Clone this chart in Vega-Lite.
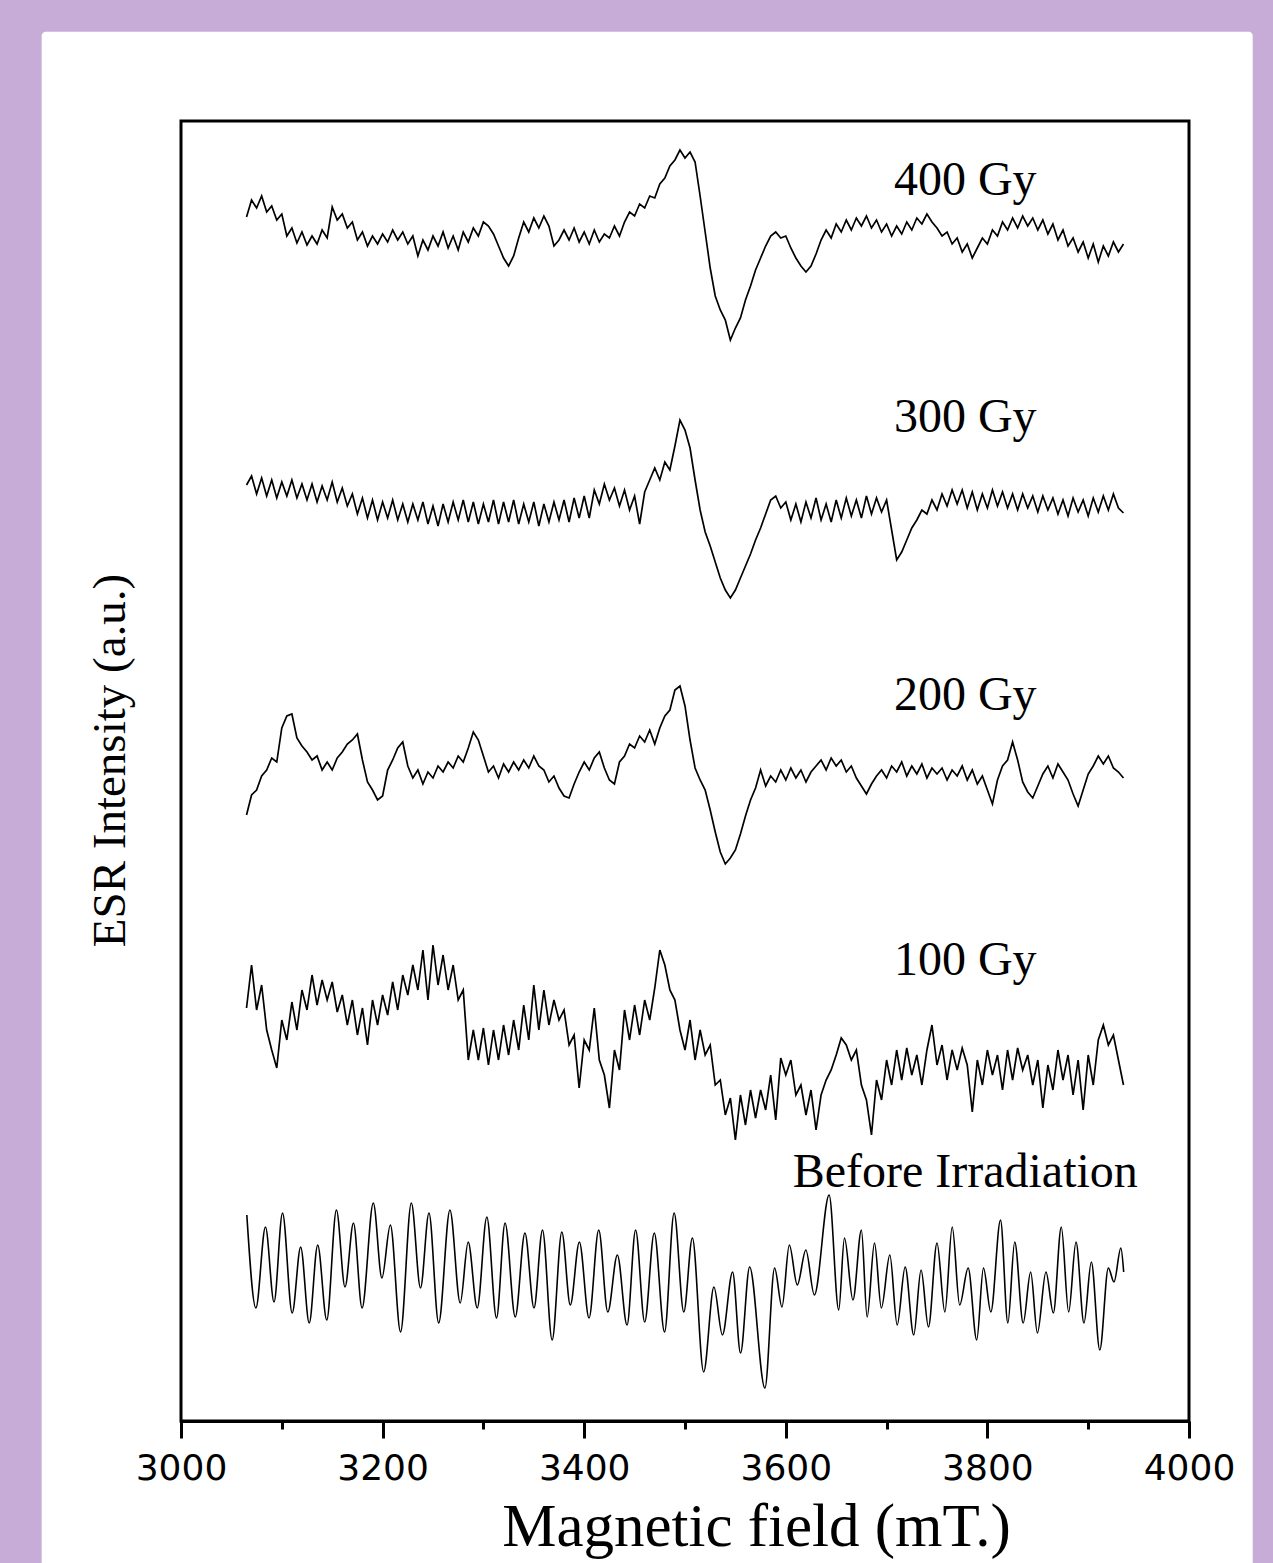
{
"$schema":"https://vega.github.io/schema/vega-lite/v6.json",
"width":1008,"height":1300,
"autosize":{"type":"none"},
"padding":{"left":181,"top":121,"right":84,"bottom":142},
"background":"#c8acd8",
"config":{"view":{"stroke":null},"axis":{"grid":false}},
"datasets":{
"noisy":[
{"d":"400","x":3065,"v":1283},{"d":"400","x":3070,"v":1300},{"d":"400","x":3075,"v":1292},{"d":"400","x":3080,"v":1304},{"d":"400","x":3085,"v":1288},{"d":"400","x":3090,"v":1294},{"d":"400","x":3095,"v":1280},{"d":"400","x":3100,"v":1286},{"d":"400","x":3105,"v":1264},{"d":"400","x":3110,"v":1272},{"d":"400","x":3115,"v":1257},{"d":"400","x":3120,"v":1268},{"d":"400","x":3125,"v":1255},{"d":"400","x":3130,"v":1264},{"d":"400","x":3135,"v":1256},{"d":"400","x":3140,"v":1270},{"d":"400","x":3145,"v":1262},{"d":"400","x":3150,"v":1293},{"d":"400","x":3155,"v":1280},{"d":"400","x":3160,"v":1286},{"d":"400","x":3165,"v":1272},{"d":"400","x":3170,"v":1278},{"d":"400","x":3175,"v":1260},{"d":"400","x":3180,"v":1268},{"d":"400","x":3185,"v":1254},{"d":"400","x":3190,"v":1264},{"d":"400","x":3195,"v":1256},{"d":"400","x":3200,"v":1266},{"d":"400","x":3205,"v":1258},{"d":"400","x":3210,"v":1270},{"d":"400","x":3215,"v":1260},{"d":"400","x":3220,"v":1268},{"d":"400","x":3225,"v":1256},{"d":"400","x":3230,"v":1264},{"d":"400","x":3235,"v":1244},{"d":"400","x":3240,"v":1260},{"d":"400","x":3245,"v":1250},{"d":"400","x":3250,"v":1264},{"d":"400","x":3255,"v":1254},{"d":"400","x":3260,"v":1268},{"d":"400","x":3265,"v":1252},{"d":"400","x":3270,"v":1264},{"d":"400","x":3275,"v":1250},{"d":"400","x":3280,"v":1268},{"d":"400","x":3285,"v":1258},{"d":"400","x":3290,"v":1272},{"d":"400","x":3295,"v":1264},{"d":"400","x":3300,"v":1278},{"d":"400","x":3305,"v":1274},{"d":"400","x":3310,"v":1266},{"d":"400","x":3315,"v":1254},{"d":"400","x":3320,"v":1242},{"d":"400","x":3325,"v":1234},{"d":"400","x":3330,"v":1244},{"d":"400","x":3335,"v":1262},{"d":"400","x":3340,"v":1278},{"d":"400","x":3345,"v":1268},{"d":"400","x":3350,"v":1282},{"d":"400","x":3355,"v":1272},{"d":"400","x":3360,"v":1284},{"d":"400","x":3365,"v":1274},{"d":"400","x":3370,"v":1254},{"d":"400","x":3375,"v":1260},{"d":"400","x":3380,"v":1270},{"d":"400","x":3385,"v":1260},{"d":"400","x":3390,"v":1272},{"d":"400","x":3395,"v":1258},{"d":"400","x":3400,"v":1268},{"d":"400","x":3405,"v":1256},{"d":"400","x":3410,"v":1270},{"d":"400","x":3415,"v":1258},{"d":"400","x":3420,"v":1266},{"d":"400","x":3425,"v":1262},{"d":"400","x":3430,"v":1274},{"d":"400","x":3435,"v":1264},{"d":"400","x":3440,"v":1278},{"d":"400","x":3445,"v":1288},{"d":"400","x":3450,"v":1284},{"d":"400","x":3455,"v":1296},{"d":"400","x":3460,"v":1292},{"d":"400","x":3465,"v":1304},{"d":"400","x":3470,"v":1302},{"d":"400","x":3475,"v":1316},{"d":"400","x":3480,"v":1322},{"d":"400","x":3485,"v":1334},{"d":"400","x":3490,"v":1340},{"d":"400","x":3495,"v":1350},{"d":"400","x":3500,"v":1342},{"d":"400","x":3505,"v":1348},{"d":"400","x":3510,"v":1338},{"d":"400","x":3515,"v":1304},{"d":"400","x":3520,"v":1268},{"d":"400","x":3525,"v":1232},{"d":"400","x":3530,"v":1204},{"d":"400","x":3535,"v":1190},{"d":"400","x":3540,"v":1180},{"d":"400","x":3545,"v":1160},{"d":"400","x":3550,"v":1172},{"d":"400","x":3555,"v":1182},{"d":"400","x":3560,"v":1200},{"d":"400","x":3565,"v":1214},{"d":"400","x":3570,"v":1230},{"d":"400","x":3575,"v":1242},{"d":"400","x":3580,"v":1254},{"d":"400","x":3585,"v":1264},{"d":"400","x":3590,"v":1268},{"d":"400","x":3595,"v":1262},{"d":"400","x":3600,"v":1264},{"d":"400","x":3605,"v":1252},{"d":"400","x":3610,"v":1242},{"d":"400","x":3615,"v":1234},{"d":"400","x":3620,"v":1228},{"d":"400","x":3625,"v":1234},{"d":"400","x":3630,"v":1246},{"d":"400","x":3635,"v":1260},{"d":"400","x":3640,"v":1270},{"d":"400","x":3645,"v":1262},{"d":"400","x":3650,"v":1276},{"d":"400","x":3655,"v":1268},{"d":"400","x":3660,"v":1280},{"d":"400","x":3665,"v":1270},{"d":"400","x":3670,"v":1282},{"d":"400","x":3675,"v":1274},{"d":"400","x":3680,"v":1284},{"d":"400","x":3685,"v":1272},{"d":"400","x":3690,"v":1280},{"d":"400","x":3695,"v":1268},{"d":"400","x":3700,"v":1276},{"d":"400","x":3705,"v":1264},{"d":"400","x":3710,"v":1274},{"d":"400","x":3715,"v":1266},{"d":"400","x":3720,"v":1278},{"d":"400","x":3725,"v":1270},{"d":"400","x":3730,"v":1282},{"d":"400","x":3735,"v":1276},{"d":"400","x":3740,"v":1286},{"d":"400","x":3745,"v":1278},{"d":"400","x":3750,"v":1272},{"d":"400","x":3755,"v":1264},{"d":"400","x":3760,"v":1268},{"d":"400","x":3765,"v":1256},{"d":"400","x":3770,"v":1262},{"d":"400","x":3775,"v":1248},{"d":"400","x":3780,"v":1256},{"d":"400","x":3785,"v":1242},{"d":"400","x":3790,"v":1252},{"d":"400","x":3795,"v":1262},{"d":"400","x":3800,"v":1256},{"d":"400","x":3805,"v":1270},{"d":"400","x":3810,"v":1264},{"d":"400","x":3815,"v":1278},{"d":"400","x":3820,"v":1270},{"d":"400","x":3825,"v":1282},{"d":"400","x":3830,"v":1272},{"d":"400","x":3835,"v":1284},{"d":"400","x":3840,"v":1274},{"d":"400","x":3845,"v":1282},{"d":"400","x":3850,"v":1270},{"d":"400","x":3855,"v":1280},{"d":"400","x":3860,"v":1266},{"d":"400","x":3865,"v":1276},{"d":"400","x":3870,"v":1260},{"d":"400","x":3875,"v":1270},{"d":"400","x":3880,"v":1254},{"d":"400","x":3885,"v":1262},{"d":"400","x":3890,"v":1248},{"d":"400","x":3895,"v":1258},{"d":"400","x":3900,"v":1242},{"d":"400","x":3905,"v":1256},{"d":"400","x":3910,"v":1238},{"d":"400","x":3915,"v":1254},{"d":"400","x":3920,"v":1244},{"d":"400","x":3925,"v":1258},{"d":"400","x":3930,"v":1248},{"d":"400","x":3935,"v":1256},
{"d":"300","x":3065,"v":1015},{"d":"300","x":3070,"v":1024},{"d":"300","x":3075,"v":1006},{"d":"300","x":3080,"v":1022},{"d":"300","x":3085,"v":1004},{"d":"300","x":3090,"v":1020},{"d":"300","x":3095,"v":1002},{"d":"300","x":3100,"v":1018},{"d":"300","x":3105,"v":1004},{"d":"300","x":3110,"v":1020},{"d":"300","x":3115,"v":1002},{"d":"300","x":3120,"v":1016},{"d":"300","x":3125,"v":1000},{"d":"300","x":3130,"v":1016},{"d":"300","x":3135,"v":998},{"d":"300","x":3140,"v":1014},{"d":"300","x":3145,"v":1000},{"d":"300","x":3150,"v":1018},{"d":"300","x":3155,"v":998},{"d":"300","x":3160,"v":1012},{"d":"300","x":3165,"v":994},{"d":"300","x":3170,"v":1006},{"d":"300","x":3175,"v":986},{"d":"300","x":3180,"v":1002},{"d":"300","x":3185,"v":982},{"d":"300","x":3190,"v":1000},{"d":"300","x":3195,"v":980},{"d":"300","x":3200,"v":998},{"d":"300","x":3205,"v":982},{"d":"300","x":3210,"v":1000},{"d":"300","x":3215,"v":980},{"d":"300","x":3220,"v":996},{"d":"300","x":3225,"v":978},{"d":"300","x":3230,"v":996},{"d":"300","x":3235,"v":980},{"d":"300","x":3240,"v":998},{"d":"300","x":3245,"v":976},{"d":"300","x":3250,"v":994},{"d":"300","x":3255,"v":974},{"d":"300","x":3260,"v":996},{"d":"300","x":3265,"v":978},{"d":"300","x":3270,"v":998},{"d":"300","x":3275,"v":980},{"d":"300","x":3280,"v":1000},{"d":"300","x":3285,"v":978},{"d":"300","x":3290,"v":998},{"d":"300","x":3295,"v":976},{"d":"300","x":3300,"v":996},{"d":"300","x":3305,"v":978},{"d":"300","x":3310,"v":1000},{"d":"300","x":3315,"v":976},{"d":"300","x":3320,"v":998},{"d":"300","x":3325,"v":978},{"d":"300","x":3330,"v":1000},{"d":"300","x":3335,"v":976},{"d":"300","x":3340,"v":996},{"d":"300","x":3345,"v":978},{"d":"300","x":3350,"v":998},{"d":"300","x":3355,"v":974},{"d":"300","x":3360,"v":996},{"d":"300","x":3365,"v":978},{"d":"300","x":3370,"v":998},{"d":"300","x":3375,"v":980},{"d":"300","x":3380,"v":1000},{"d":"300","x":3385,"v":978},{"d":"300","x":3390,"v":1002},{"d":"300","x":3395,"v":982},{"d":"300","x":3400,"v":1004},{"d":"300","x":3405,"v":982},{"d":"300","x":3410,"v":1010},{"d":"300","x":3415,"v":996},{"d":"300","x":3420,"v":1016},{"d":"300","x":3425,"v":1000},{"d":"300","x":3430,"v":1012},{"d":"300","x":3435,"v":994},{"d":"300","x":3440,"v":1010},{"d":"300","x":3445,"v":990},{"d":"300","x":3450,"v":1004},{"d":"300","x":3455,"v":976},{"d":"300","x":3460,"v":1008},{"d":"300","x":3465,"v":1020},{"d":"300","x":3470,"v":1032},{"d":"300","x":3475,"v":1020},{"d":"300","x":3480,"v":1038},{"d":"300","x":3485,"v":1030},{"d":"300","x":3490,"v":1054},{"d":"300","x":3495,"v":1080},{"d":"300","x":3500,"v":1070},{"d":"300","x":3505,"v":1052},{"d":"300","x":3510,"v":1020},{"d":"300","x":3515,"v":990},{"d":"300","x":3520,"v":968},{"d":"300","x":3525,"v":954},{"d":"300","x":3530,"v":938},{"d":"300","x":3535,"v":922},{"d":"300","x":3540,"v":910},{"d":"300","x":3545,"v":902},{"d":"300","x":3550,"v":910},{"d":"300","x":3555,"v":922},{"d":"300","x":3560,"v":934},{"d":"300","x":3565,"v":946},{"d":"300","x":3570,"v":960},{"d":"300","x":3575,"v":972},{"d":"300","x":3580,"v":986},{"d":"300","x":3585,"v":1000},{"d":"300","x":3590,"v":1004},{"d":"300","x":3595,"v":992},{"d":"300","x":3600,"v":998},{"d":"300","x":3605,"v":980},{"d":"300","x":3610,"v":996},{"d":"300","x":3615,"v":978},{"d":"300","x":3620,"v":998},{"d":"300","x":3625,"v":982},{"d":"300","x":3630,"v":1002},{"d":"300","x":3635,"v":980},{"d":"300","x":3640,"v":996},{"d":"300","x":3645,"v":978},{"d":"300","x":3650,"v":1000},{"d":"300","x":3655,"v":982},{"d":"300","x":3660,"v":1002},{"d":"300","x":3665,"v":984},{"d":"300","x":3670,"v":1000},{"d":"300","x":3675,"v":982},{"d":"300","x":3680,"v":1004},{"d":"300","x":3685,"v":986},{"d":"300","x":3690,"v":1002},{"d":"300","x":3695,"v":988},{"d":"300","x":3700,"v":1000},{"d":"300","x":3705,"v":970},{"d":"300","x":3710,"v":940},{"d":"300","x":3715,"v":948},{"d":"300","x":3720,"v":960},{"d":"300","x":3725,"v":972},{"d":"300","x":3730,"v":980},{"d":"300","x":3735,"v":990},{"d":"300","x":3740,"v":986},{"d":"300","x":3745,"v":1000},{"d":"300","x":3750,"v":990},{"d":"300","x":3755,"v":1006},{"d":"300","x":3760,"v":994},{"d":"300","x":3765,"v":1010},{"d":"300","x":3770,"v":996},{"d":"300","x":3775,"v":1010},{"d":"300","x":3780,"v":992},{"d":"300","x":3785,"v":1008},{"d":"300","x":3790,"v":990},{"d":"300","x":3795,"v":1006},{"d":"300","x":3800,"v":992},{"d":"300","x":3805,"v":1010},{"d":"300","x":3810,"v":994},{"d":"300","x":3815,"v":1008},{"d":"300","x":3820,"v":992},{"d":"300","x":3825,"v":1006},{"d":"300","x":3830,"v":990},{"d":"300","x":3835,"v":1006},{"d":"300","x":3840,"v":992},{"d":"300","x":3845,"v":1004},{"d":"300","x":3850,"v":988},{"d":"300","x":3855,"v":1004},{"d":"300","x":3860,"v":990},{"d":"300","x":3865,"v":1002},{"d":"300","x":3870,"v":986},{"d":"300","x":3875,"v":1000},{"d":"300","x":3880,"v":984},{"d":"300","x":3885,"v":1002},{"d":"300","x":3890,"v":988},{"d":"300","x":3895,"v":1000},{"d":"300","x":3900,"v":984},{"d":"300","x":3905,"v":1002},{"d":"300","x":3910,"v":988},{"d":"300","x":3915,"v":1004},{"d":"300","x":3920,"v":990},{"d":"300","x":3925,"v":1006},{"d":"300","x":3930,"v":992},{"d":"300","x":3935,"v":987},
{"d":"200","x":3065,"v":685},{"d":"200","x":3070,"v":705},{"d":"200","x":3075,"v":710},{"d":"200","x":3080,"v":724},{"d":"200","x":3085,"v":730},{"d":"200","x":3090,"v":742},{"d":"200","x":3095,"v":738},{"d":"200","x":3100,"v":772},{"d":"200","x":3105,"v":784},{"d":"200","x":3110,"v":786},{"d":"200","x":3115,"v":762},{"d":"200","x":3120,"v":754},{"d":"200","x":3125,"v":748},{"d":"200","x":3130,"v":740},{"d":"200","x":3135,"v":744},{"d":"200","x":3140,"v":730},{"d":"200","x":3145,"v":738},{"d":"200","x":3150,"v":730},{"d":"200","x":3155,"v":742},{"d":"200","x":3160,"v":748},{"d":"200","x":3165,"v":756},{"d":"200","x":3170,"v":760},{"d":"200","x":3175,"v":766},{"d":"200","x":3180,"v":740},{"d":"200","x":3185,"v":718},{"d":"200","x":3190,"v":710},{"d":"200","x":3195,"v":700},{"d":"200","x":3200,"v":704},{"d":"200","x":3205,"v":730},{"d":"200","x":3210,"v":740},{"d":"200","x":3215,"v":752},{"d":"200","x":3220,"v":758},{"d":"200","x":3225,"v":734},{"d":"200","x":3230,"v":722},{"d":"200","x":3235,"v":730},{"d":"200","x":3240,"v":716},{"d":"200","x":3245,"v":728},{"d":"200","x":3250,"v":722},{"d":"200","x":3255,"v":734},{"d":"200","x":3260,"v":728},{"d":"200","x":3265,"v":738},{"d":"200","x":3270,"v":732},{"d":"200","x":3275,"v":744},{"d":"200","x":3280,"v":738},{"d":"200","x":3285,"v":752},{"d":"200","x":3290,"v":768},{"d":"200","x":3295,"v":760},{"d":"200","x":3300,"v":744},{"d":"200","x":3305,"v":728},{"d":"200","x":3310,"v":734},{"d":"200","x":3315,"v":722},{"d":"200","x":3320,"v":736},{"d":"200","x":3325,"v":728},{"d":"200","x":3330,"v":738},{"d":"200","x":3335,"v":730},{"d":"200","x":3340,"v":740},{"d":"200","x":3345,"v":732},{"d":"200","x":3350,"v":744},{"d":"200","x":3355,"v":734},{"d":"200","x":3360,"v":730},{"d":"200","x":3365,"v":718},{"d":"200","x":3370,"v":724},{"d":"200","x":3375,"v":712},{"d":"200","x":3380,"v":704},{"d":"200","x":3385,"v":702},{"d":"200","x":3390,"v":716},{"d":"200","x":3395,"v":728},{"d":"200","x":3400,"v":738},{"d":"200","x":3405,"v":730},{"d":"200","x":3410,"v":742},{"d":"200","x":3415,"v":748},{"d":"200","x":3420,"v":732},{"d":"200","x":3425,"v":720},{"d":"200","x":3430,"v":716},{"d":"200","x":3435,"v":738},{"d":"200","x":3440,"v":744},{"d":"200","x":3445,"v":756},{"d":"200","x":3450,"v":752},{"d":"200","x":3455,"v":764},{"d":"200","x":3460,"v":758},{"d":"200","x":3465,"v":770},{"d":"200","x":3470,"v":756},{"d":"200","x":3475,"v":772},{"d":"200","x":3480,"v":784},{"d":"200","x":3485,"v":790},{"d":"200","x":3490,"v":810},{"d":"200","x":3495,"v":814},{"d":"200","x":3500,"v":794},{"d":"200","x":3505,"v":760},{"d":"200","x":3510,"v":732},{"d":"200","x":3515,"v":720},{"d":"200","x":3520,"v":710},{"d":"200","x":3525,"v":690},{"d":"200","x":3530,"v":668},{"d":"200","x":3535,"v":648},{"d":"200","x":3540,"v":636},{"d":"200","x":3545,"v":642},{"d":"200","x":3550,"v":650},{"d":"200","x":3555,"v":666},{"d":"200","x":3560,"v":684},{"d":"200","x":3565,"v":700},{"d":"200","x":3570,"v":712},{"d":"200","x":3575,"v":730},{"d":"200","x":3580,"v":714},{"d":"200","x":3585,"v":724},{"d":"200","x":3590,"v":718},{"d":"200","x":3595,"v":730},{"d":"200","x":3600,"v":720},{"d":"200","x":3605,"v":732},{"d":"200","x":3610,"v":722},{"d":"200","x":3615,"v":730},{"d":"200","x":3620,"v":718},{"d":"200","x":3625,"v":728},{"d":"200","x":3630,"v":734},{"d":"200","x":3635,"v":740},{"d":"200","x":3640,"v":730},{"d":"200","x":3645,"v":742},{"d":"200","x":3650,"v":734},{"d":"200","x":3655,"v":740},{"d":"200","x":3660,"v":728},{"d":"200","x":3665,"v":734},{"d":"200","x":3670,"v":722},{"d":"200","x":3675,"v":714},{"d":"200","x":3680,"v":706},{"d":"200","x":3685,"v":716},{"d":"200","x":3690,"v":724},{"d":"200","x":3695,"v":730},{"d":"200","x":3700,"v":722},{"d":"200","x":3705,"v":734},{"d":"200","x":3710,"v":728},{"d":"200","x":3715,"v":738},{"d":"200","x":3720,"v":724},{"d":"200","x":3725,"v":734},{"d":"200","x":3730,"v":726},{"d":"200","x":3735,"v":736},{"d":"200","x":3740,"v":722},{"d":"200","x":3745,"v":732},{"d":"200","x":3750,"v":726},{"d":"200","x":3755,"v":732},{"d":"200","x":3760,"v":720},{"d":"200","x":3765,"v":730},{"d":"200","x":3770,"v":724},{"d":"200","x":3775,"v":734},{"d":"200","x":3780,"v":720},{"d":"200","x":3785,"v":730},{"d":"200","x":3790,"v":716},{"d":"200","x":3795,"v":724},{"d":"200","x":3800,"v":710},{"d":"200","x":3805,"v":696},{"d":"200","x":3810,"v":720},{"d":"200","x":3815,"v":734},{"d":"200","x":3820,"v":740},{"d":"200","x":3825,"v":758},{"d":"200","x":3830,"v":740},{"d":"200","x":3835,"v":718},{"d":"200","x":3840,"v":708},{"d":"200","x":3845,"v":702},{"d":"200","x":3850,"v":714},{"d":"200","x":3855,"v":726},{"d":"200","x":3860,"v":734},{"d":"200","x":3865,"v":722},{"d":"200","x":3870,"v":736},{"d":"200","x":3875,"v":728},{"d":"200","x":3880,"v":720},{"d":"200","x":3885,"v":706},{"d":"200","x":3890,"v":694},{"d":"200","x":3895,"v":710},{"d":"200","x":3900,"v":726},{"d":"200","x":3905,"v":734},{"d":"200","x":3910,"v":744},{"d":"200","x":3915,"v":736},{"d":"200","x":3920,"v":744},{"d":"200","x":3925,"v":732},{"d":"200","x":3930,"v":728},{"d":"200","x":3935,"v":722},
{"d":"100","x":3065,"v":492},{"d":"100","x":3070,"v":535},{"d":"100","x":3075,"v":490},{"d":"100","x":3080,"v":515},{"d":"100","x":3085,"v":470},{"d":"100","x":3090,"v":450},{"d":"100","x":3095,"v":432},{"d":"100","x":3100,"v":480},{"d":"100","x":3105,"v":460},{"d":"100","x":3110,"v":498},{"d":"100","x":3115,"v":470},{"d":"100","x":3120,"v":510},{"d":"100","x":3125,"v":490},{"d":"100","x":3130,"v":525},{"d":"100","x":3135,"v":495},{"d":"100","x":3140,"v":520},{"d":"100","x":3145,"v":500},{"d":"100","x":3150,"v":518},{"d":"100","x":3155,"v":488},{"d":"100","x":3160,"v":505},{"d":"100","x":3165,"v":475},{"d":"100","x":3170,"v":500},{"d":"100","x":3175,"v":465},{"d":"100","x":3180,"v":492},{"d":"100","x":3185,"v":455},{"d":"100","x":3190,"v":500},{"d":"100","x":3195,"v":475},{"d":"100","x":3200,"v":505},{"d":"100","x":3205,"v":485},{"d":"100","x":3210,"v":518},{"d":"100","x":3215,"v":490},{"d":"100","x":3220,"v":525},{"d":"100","x":3225,"v":505},{"d":"100","x":3230,"v":535},{"d":"100","x":3235,"v":510},{"d":"100","x":3240,"v":550},{"d":"100","x":3245,"v":500},{"d":"100","x":3250,"v":555},{"d":"100","x":3255,"v":515},{"d":"100","x":3260,"v":545},{"d":"100","x":3265,"v":510},{"d":"100","x":3270,"v":535},{"d":"100","x":3275,"v":500},{"d":"100","x":3280,"v":510},{"d":"100","x":3285,"v":440},{"d":"100","x":3290,"v":470},{"d":"100","x":3295,"v":440},{"d":"100","x":3300,"v":472},{"d":"100","x":3305,"v":435},{"d":"100","x":3310,"v":470},{"d":"100","x":3315,"v":440},{"d":"100","x":3320,"v":475},{"d":"100","x":3325,"v":445},{"d":"100","x":3330,"v":480},{"d":"100","x":3335,"v":450},{"d":"100","x":3340,"v":495},{"d":"100","x":3345,"v":460},{"d":"100","x":3350,"v":515},{"d":"100","x":3355,"v":470},{"d":"100","x":3360,"v":510},{"d":"100","x":3365,"v":475},{"d":"100","x":3370,"v":500},{"d":"100","x":3375,"v":480},{"d":"100","x":3380,"v":490},{"d":"100","x":3385,"v":455},{"d":"100","x":3390,"v":465},{"d":"100","x":3395,"v":412},{"d":"100","x":3400,"v":460},{"d":"100","x":3405,"v":450},{"d":"100","x":3410,"v":492},{"d":"100","x":3415,"v":440},{"d":"100","x":3420,"v":425},{"d":"100","x":3425,"v":392},{"d":"100","x":3430,"v":450},{"d":"100","x":3435,"v":430},{"d":"100","x":3440,"v":490},{"d":"100","x":3445,"v":460},{"d":"100","x":3450,"v":495},{"d":"100","x":3455,"v":465},{"d":"100","x":3460,"v":500},{"d":"100","x":3465,"v":480},{"d":"100","x":3470,"v":512},{"d":"100","x":3475,"v":550},{"d":"100","x":3480,"v":535},{"d":"100","x":3485,"v":510},{"d":"100","x":3490,"v":500},{"d":"100","x":3495,"v":470},{"d":"100","x":3500,"v":450},{"d":"100","x":3505,"v":480},{"d":"100","x":3510,"v":440},{"d":"100","x":3515,"v":470},{"d":"100","x":3520,"v":445},{"d":"100","x":3525,"v":455},{"d":"100","x":3530,"v":415},{"d":"100","x":3535,"v":420},{"d":"100","x":3540,"v":385},{"d":"100","x":3545,"v":402},{"d":"100","x":3550,"v":360},{"d":"100","x":3555,"v":405},{"d":"100","x":3560,"v":375},{"d":"100","x":3565,"v":410},{"d":"100","x":3570,"v":382},{"d":"100","x":3575,"v":410},{"d":"100","x":3580,"v":390},{"d":"100","x":3585,"v":425},{"d":"100","x":3590,"v":380},{"d":"100","x":3595,"v":442},{"d":"100","x":3600,"v":425},{"d":"100","x":3605,"v":440},{"d":"100","x":3610,"v":405},{"d":"100","x":3615,"v":415},{"d":"100","x":3620,"v":385},{"d":"100","x":3625,"v":410},{"d":"100","x":3630,"v":370},{"d":"100","x":3635,"v":405},{"d":"100","x":3640,"v":420},{"d":"100","x":3645,"v":430},{"d":"100","x":3650,"v":445},{"d":"100","x":3655,"v":462},{"d":"100","x":3660,"v":455},{"d":"100","x":3665,"v":440},{"d":"100","x":3670,"v":450},{"d":"100","x":3675,"v":415},{"d":"100","x":3680,"v":400},{"d":"100","x":3685,"v":365},{"d":"100","x":3690,"v":420},{"d":"100","x":3695,"v":400},{"d":"100","x":3700,"v":440},{"d":"100","x":3705,"v":415},{"d":"100","x":3710,"v":450},{"d":"100","x":3715,"v":420},{"d":"100","x":3720,"v":452},{"d":"100","x":3725,"v":425},{"d":"100","x":3730,"v":445},{"d":"100","x":3735,"v":415},{"d":"100","x":3740,"v":450},{"d":"100","x":3745,"v":475},{"d":"100","x":3750,"v":435},{"d":"100","x":3755,"v":455},{"d":"100","x":3760,"v":420},{"d":"100","x":3765,"v":450},{"d":"100","x":3770,"v":430},{"d":"100","x":3775,"v":452},{"d":"100","x":3780,"v":435},{"d":"100","x":3785,"v":388},{"d":"100","x":3790,"v":440},{"d":"100","x":3795,"v":415},{"d":"100","x":3800,"v":450},{"d":"100","x":3805,"v":425},{"d":"100","x":3810,"v":445},{"d":"100","x":3815,"v":410},{"d":"100","x":3820,"v":450},{"d":"100","x":3825,"v":420},{"d":"100","x":3830,"v":452},{"d":"100","x":3835,"v":430},{"d":"100","x":3840,"v":445},{"d":"100","x":3845,"v":415},{"d":"100","x":3850,"v":440},{"d":"100","x":3855,"v":392},{"d":"100","x":3860,"v":435},{"d":"100","x":3865,"v":410},{"d":"100","x":3870,"v":450},{"d":"100","x":3875,"v":420},{"d":"100","x":3880,"v":445},{"d":"100","x":3885,"v":405},{"d":"100","x":3890,"v":440},{"d":"100","x":3895,"v":390},{"d":"100","x":3900,"v":445},{"d":"100","x":3905,"v":415},{"d":"100","x":3910,"v":460},{"d":"100","x":3915,"v":475},{"d":"100","x":3920,"v":455},{"d":"100","x":3925,"v":465},{"d":"100","x":3930,"v":440},{"d":"100","x":3935,"v":415}
],
"smooth":[
{"x":3065.3,"v":285},{"x":3074.3,"v":192},{"x":3083.8,"v":273},{"x":3092.3,"v":198},{"x":3100.7,"v":287},{"x":3110.3,"v":187},{"x":3118.7,"v":253},{"x":3127.2,"v":177},{"x":3135.6,"v":255},{"x":3144.6,"v":180},{"x":3154.2,"v":290},{"x":3162.7,"v":213},{"x":3171.1,"v":277},{"x":3179.6,"v":192},{"x":3190.8,"v":297},{"x":3199.3,"v":222},{"x":3207.7,"v":275},{"x":3217.8,"v":168},{"x":3228.5,"v":297},{"x":3237.6,"v":212},{"x":3246.0,"v":287},{"x":3255.6,"v":177},{"x":3266.8,"v":290},{"x":3277.0,"v":197},{"x":3284.9,"v":258},{"x":3293.9,"v":192},{"x":3303.4,"v":283},{"x":3313.0,"v":182},{"x":3321.5,"v":277},{"x":3331.6,"v":183},{"x":3341.2,"v":267},{"x":3350.2,"v":192},{"x":3358.6,"v":270},{"x":3368.2,"v":160},{"x":3377.8,"v":268},{"x":3386.2,"v":195},{"x":3395.2,"v":258},{"x":3404.8,"v":182},{"x":3414.4,"v":270},{"x":3423.4,"v":188},{"x":3432.9,"v":245},{"x":3442.5,"v":175},{"x":3451.0,"v":270},{"x":3460.0,"v":178},{"x":3469.5,"v":267},{"x":3479.7,"v":168},{"x":3489.2,"v":287},{"x":3498.8,"v":188},{"x":3507.3,"v":262},{"x":3518.5,"v":128},{"x":3528.7,"v":213},{"x":3537.1,"v":165},{"x":3547.2,"v":228},{"x":3555.1,"v":147},{"x":3564.1,"v":233},{"x":3579.3,"v":112},{"x":3588.9,"v":232},{"x":3596.2,"v":193},{"x":3603.5,"v":255},{"x":3611.4,"v":215},{"x":3619.9,"v":250},{"x":3628.3,"v":205},{"x":3643.0,"v":305},{"x":3652.5,"v":190},{"x":3658.2,"v":262},{"x":3666.6,"v":200},{"x":3675.0,"v":270},{"x":3680.7,"v":183},{"x":3688.0,"v":257},{"x":3694.8,"v":192},{"x":3703.2,"v":245},{"x":3710.5,"v":175},{"x":3718.4,"v":233},{"x":3726.9,"v":165},{"x":3734.2,"v":230},{"x":3741.5,"v":173},{"x":3750.0,"v":257},{"x":3757.8,"v":188},{"x":3765.1,"v":273},{"x":3772.5,"v":195},{"x":3780.9,"v":232},{"x":3789.4,"v":160},{"x":3796.1,"v":232},{"x":3803.4,"v":188},{"x":3813.0,"v":280},{"x":3820.3,"v":177},{"x":3827.1,"v":258},{"x":3835.5,"v":177},{"x":3842.9,"v":228},{"x":3849.6,"v":167},{"x":3858.1,"v":228},{"x":3865.4,"v":187},{"x":3873.3,"v":273},{"x":3880.6,"v":188},{"x":3887.9,"v":258},{"x":3895.8,"v":177},{"x":3903.1,"v":238},{"x":3911.5,"v":150},{"x":3920.0,"v":232},{"x":3925.6,"v":218},{"x":3932.4,"v":252},{"x":3935.2,"v":228}
],
"labels":[
{"t":"400 Gy","x":3778,"v":1305},{"t":"300 Gy","x":3778,"v":1068},{"t":"200 Gy","x":3778,"v":790},{"t":"100 Gy","x":3778,"v":525},{"t":"Before Irradiation","x":3778,"v":313}
]
},
"resolve":{"axis":{"x":"independent","y":"independent"}},
"layer":[
{"data":{"values":[{}]},
 "mark":{"type":"rect","fill":"white","cornerRadius":4,"clip":false},
 "encoding":{
  "x":{"datum":2861.8,"type":"quantitative","scale":{"domain":[3000,4000],"nice":false,"zero":false},"axis":null},
  "x2":{"datum":4063.2},
  "y":{"datum":1468.3,"type":"quantitative","scale":{"domain":[79,1379],"nice":false,"zero":false},"axis":null},
  "y2":{"datum":-80}}},
{"data":{"name":"noisy"},
 "mark":{"type":"line","stroke":"black","strokeWidth":1.7,"clip":false},
 "encoding":{
  "x":{"field":"x","type":"quantitative","scale":{"domain":[3000,4000],"nice":false,"zero":false},
   "axis":{"orient":"bottom","values":[3000,3200,3400,3600,3800,4000],"format":"d","labelFont":"DejaVu Sans","labelFontSize":36,"labelColor":"black","labelPadding":13,"labelFlush":false,"labelOverlap":false,"tickSize":17,"tickWidth":3,"tickColor":"black","domainColor":"black","domainWidth":3,"title":"Magnetic field (mT.)","titleFont":"Liberation Serif","titleFontSize":61,"titleFontWeight":"normal","titleColor":"black","titleX":575,"titleY":124,"titleBaseline":"alphabetic","titleAlign":"center","zindex":1}},
  "y":{"field":"v","type":"quantitative","scale":{"domain":[79,1379],"nice":false,"zero":false},
   "axis":{"orient":"left","title":"ESR Intensity (a.u.)","labels":false,"ticks":false,"domain":false,"grid":false,"minExtent":0,"titleFont":"Liberation Serif","titleFontSize":47,"titleFontWeight":"normal","titleColor":"black","titleX":-57,"titleY":639,"titleAngle":-90,"titleBaseline":"alphabetic","titleAlign":"center","zindex":1}},
  "detail":{"field":"d","type":"nominal"}}},
{"data":{"name":"smooth"},
 "mark":{"type":"line","stroke":"black","strokeWidth":1.6,"interpolate":"monotone","clip":false},
 "encoding":{
  "x":{"field":"x","type":"quantitative","scale":{"domain":[3000,4000],"nice":false,"zero":false},
   "axis":{"orient":"bottom","values":[3100,3300,3500,3700,3900],"labels":false,"domain":false,"tickSize":8,"tickWidth":3,"tickColor":"black","title":null,"zindex":1}},
  "y":{"field":"v","type":"quantitative","axis":null}}},
{"data":{"name":"labels"},
 "mark":{"type":"text","font":"Liberation Serif","fontSize":48,"color":"black","align":"center","baseline":"alphabetic"},
 "encoding":{
  "x":{"field":"x","type":"quantitative","axis":null},
  "y":{"field":"v","type":"quantitative","axis":null},
  "text":{"field":"t"}}},
{"data":{"values":[{}]},
 "mark":{"type":"rect","fill":null,"stroke":"black","strokeWidth":3,"clip":false},
 "encoding":{
  "x":{"datum":3000,"type":"quantitative","axis":null},
  "x2":{"datum":4000},
  "y":{"datum":1379,"type":"quantitative","axis":null},
  "y2":{"datum":79}}}
]
}
